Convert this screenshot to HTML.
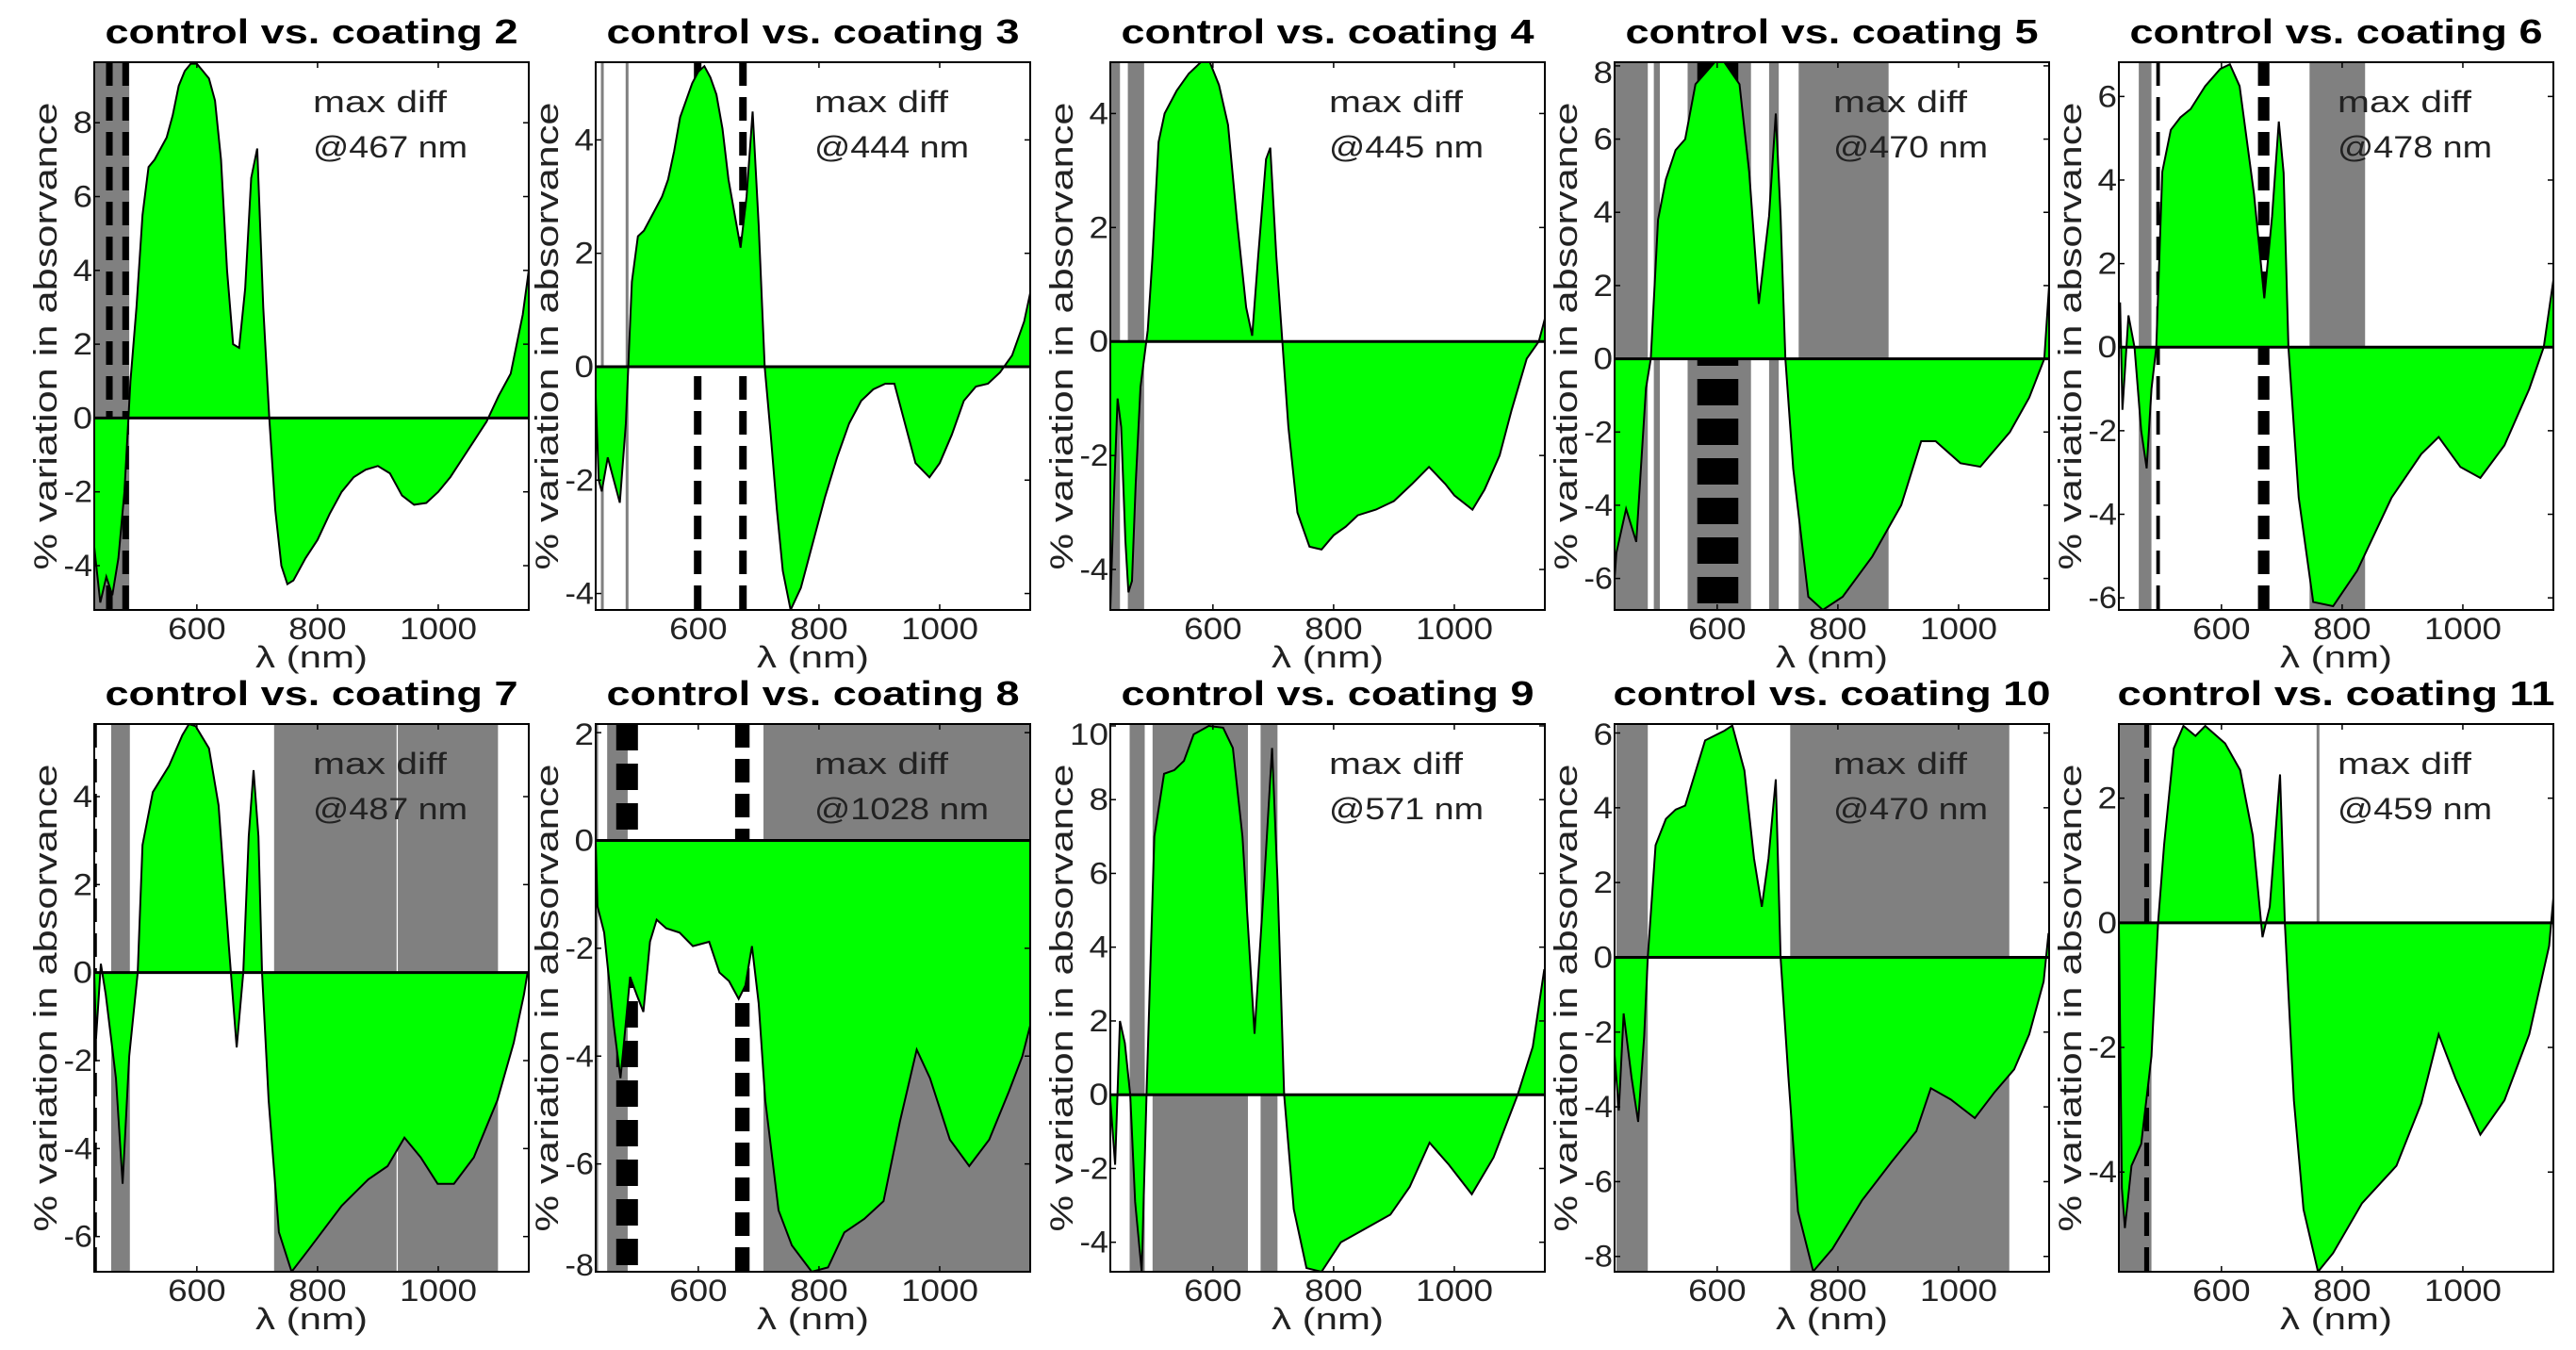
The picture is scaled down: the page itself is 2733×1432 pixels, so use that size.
<!DOCTYPE html>
<html><head><meta charset="utf-8"><title>control vs coatings</title>
<style>html,body{margin:0;padding:0;background:#fff}svg{display:block}</style></head>
<body>
<svg id="fig" xmlns="http://www.w3.org/2000/svg" width="2733" height="1432" viewBox="0 0 2733 1432">
<rect width="2733" height="1432" fill="#fff"/>
</svg>
<script>
// ---- data ----
const titles = ["control vs. coating 2","control vs. coating 3","control vs. coating 4","control vs. coating 5","control vs. coating 6","control vs. coating 7","control vs. coating 8","control vs. coating 9","control vs. coating 10","control vs. coating 11"];
const maxDiffLabels = ["@467 nm","@444 nm","@445 nm","@470 nm","@478 nm","@487 nm","@1028 nm","@571 nm","@470 nm","@459 nm"];
const yRanges = [[-5.2,9.64],[-4.29,5.37],[-4.71,4.9],[-6.86,8.1],[-6.29,6.82],[-6.8,5.65],[-8.0,2.16],[-4.8,10.05],[-8.41,6.24],[-5.6,3.19]];
const xTicks = [600,800,1000];

const wl0 = [430,440,450,460,470,480,490,500,510,520,530,540,550,560,570,580,590,600,610,620,630,640,650,660,670,680,690,700,710,720,730,740,750,760,780,800,820,840,860,880,900,920,940,960,980,1000,1020,1040,1060,1080,1100,1120,1140,1150];
const val0 = [-3.5,-5,-4.3,-4.8,-3.8,-2,1,3,5.5,6.8,7,7.3,7.6,8.2,9,9.4,9.6,9.6,9.4,9.2,8.6,7,4,2,1.9,3.5,6.5,7.3,3,0,-2.5,-4,-4.5,-4.4,-3.8,-3.3,-2.6,-2,-1.6,-1.4,-1.3,-1.5,-2.1,-2.35,-2.3,-2,-1.6,-1.1,-0.6,-0.1,0.6,1.2,2.8,4];
const wl1 = [430,435,440,450,460,470,480,490,500,510,520,530,540,550,560,570,580,590,600,610,620,630,640,650,660,670,680,690,700,710,720,730,740,753,770,790,810,830,850,870,890,910,925,940,960,983,1000,1020,1040,1060,1080,1100,1120,1140,1150];
const val1 = [-0.5,-2,-2.2,-1.6,-2.0,-2.4,-1,1.5,2.3,2.4,2.6,2.8,3.0,3.3,3.8,4.4,4.7,5.0,5.2,5.3,5.1,4.8,4.2,3.3,2.7,2.1,3.0,4.5,2.5,0,-1.2,-2.5,-3.6,-4.29,-3.9,-3.1,-2.3,-1.6,-1.0,-0.6,-0.4,-0.3,-0.3,-0.9,-1.7,-1.95,-1.7,-1.2,-0.6,-0.35,-0.3,-0.1,0.2,0.8,1.3];
const wl2 = [430,435,442,448,455,460,466,472,480,492,500,510,520,540,560,580,595,610,625,640,655,665,675,688,695,705,715,725,740,760,780,800,820,840,870,900,930,958,985,1000,1030,1050,1075,1095,1120,1140,1150];
const val2 = [-4.7,-3.0,-1.0,-1.5,-3.5,-4.4,-4.2,-2.5,-0.8,0.2,1.5,3.5,4.0,4.4,4.7,4.9,4.9,4.5,3.8,2.1,0.6,0.1,1.5,3.2,3.4,1.5,0,-1.5,-3.0,-3.6,-3.65,-3.4,-3.25,-3.05,-2.95,-2.8,-2.5,-2.2,-2.5,-2.7,-2.95,-2.6,-2.0,-1.2,-0.3,0.0,0.4];
const wl3 = [430,433,449,466,482,490,502,515,531,547,564,596,612,637,653,669,686,697,705,713,726,751,775,808,857,905,938,962,1003,1036,1085,1117,1142,1150];
const val3 = [-6,-5.3,-4.1,-5,-0.8,0,3.8,4.9,5.7,6.0,7.5,8.1,8.1,7.5,5.1,1.5,3.9,6.7,3.9,0,-3,-6.5,-6.86,-6.5,-5.4,-4.0,-2.25,-2.25,-2.85,-2.95,-2.0,-1.06,0,2];
const wl4 = [430,432,436,446,456,467,476,484,492,502,516,532,549,573,598,614,630,654,671,684,695,703,711,728,752,785,825,882,931,960,996,1029,1069,1110,1134,1151];
const val4 = [0,1.07,-1.5,0.76,0,-2.0,-2.9,-1.0,0,4.2,5.2,5.5,5.7,6.25,6.66,6.77,6.25,3.66,1.17,3.14,5.4,4.17,0,-3.6,-6.1,-6.2,-5.35,-3.6,-2.56,-2.15,-2.87,-3.13,-2.35,-1.0,0,1.7];
const wl5 = [430,433,441,449,466,477,488,502,510,527,554,576,587,598,620,636,653,666,677,686,694,702,708,719,736,757,785,840,884,916,944,971,999,1026,1059,1098,1125,1142,1148];
const val5 = [0,-1.5,0.2,-0.5,-2.4,-4.8,-1.9,0,2.9,4.1,4.7,5.4,5.65,5.6,5.1,3.8,0.6,-1.7,0,3.1,4.6,3.1,0,-2.9,-5.9,-6.8,-6.3,-5.3,-4.7,-4.4,-3.75,-4.2,-4.8,-4.8,-4.2,-2.9,-1.6,-0.5,0];
const wl6 = [430,433,444,460,471,476,487,498,509,520,531,547,569,591,618,635,651,667,678,689,700,711,733,755,788,815,842,875,907,934,962,984,1017,1049,1082,1115,1137,1150];
const val6 = [0,-1.22,-1.71,-3.43,-4.41,-3.84,-2.53,-2.86,-3.18,-1.88,-1.47,-1.63,-1.71,-1.96,-1.88,-2.45,-2.61,-2.94,-2.69,-1.96,-3.02,-4.82,-6.86,-7.51,-8.0,-7.92,-7.27,-7.02,-6.69,-5.22,-3.88,-4.41,-5.55,-6.04,-5.55,-4.65,-4.0,-3.43];
const wl7 = [430,438,446,454,463,471,482,490,503,519,536,552,568,593,617,633,649,669,685,698,707,718,734,755,780,812,845,894,926,959,991,1029,1065,1105,1130,1149];
const val7 = [-0.14,-1.9,2.0,1.4,0,-2.9,-4.8,0,7.0,8.7,8.8,9.05,9.77,10.0,9.95,9.4,7.0,1.65,5.8,9.4,5.8,0,-3.1,-4.7,-4.8,-4.0,-3.7,-3.25,-2.5,-1.3,-1.9,-2.7,-1.7,0,1.3,3.4];
const wl8 = [430,437,445,458,469,479,485,498,515,531,547,580,612,625,645,661,674,685,697,705,718,734,759,791,840,889,930,954,987,1027,1060,1092,1117,1141,1149];
const val8 = [-2.6,-4.1,-1.5,-3.2,-4.4,-2.1,0,3.0,3.7,3.95,4.06,5.8,6.06,6.2,5.0,2.65,1.35,2.65,4.76,0,-3.2,-6.8,-8.4,-7.8,-6.5,-5.47,-4.65,-3.5,-3.8,-4.3,-3.6,-3.0,-2.06,-0.65,0.65];
const wl9 = [430,435,440,451,467,484,495,505,521,537,557,573,606,631,652,668,680,697,705,720,736,760,785,833,890,931,960,988,1029,1069,1110,1143,1150];
const val9 = [0,-4.26,-4.9,-3.9,-3.55,-2.14,0,1.25,2.8,3.16,3.0,3.16,2.88,2.45,1.4,-0.23,0.26,2.38,0,-2.85,-4.6,-5.6,-5.3,-4.5,-3.9,-2.9,-1.79,-2.5,-3.4,-2.85,-1.79,-0.37,0.4];
const wls = [wl0,wl1,wl2,wl3,wl4,wl5,wl6,wl7,wl8,wl9];
const vals = [val0,val1,val2,val3,val4,val5,val6,val7,val8,val9];
// shaded wavelength bands [from,to]
const bands = [[[430,488]],[],[[430,446],[459,486]],[[430,485],[495,505],[551,656],[686,702],[735,884]],[[463,484],[746,838]],[[458,489],[728,931],[933,1099]],[[431,434],[449,483],[708,1150]],[[462,487],[500,658],[679,707]],[[433,485],[721,1084]],[[430,484]]];
const thinGray = [[],[441,482],[],[],[],[],[],[],[],[760]];
// dashed markers [nm, widthNm]
const dashes = [[[455,11],[482,11]],[[599,12.5],[674,12.5]],[],[[601,68]],[[495,6],[670,19]],[[432,4.5]],[[482,36],[673,24]],[],[],[[476,8]]];

// ---- layout ----
const NS="http://www.w3.org/2000/svg";
const svg=document.getElementById('fig');
const lefts=[100,632,1178,1713,2248];
const W=461, XMIN=430, XMAX=1150;
const rows=[[66,647],[768,1349]];
function el(tag,attrs,parent){const e=document.createElementNS(NS,tag);for(const k in attrs)e.setAttribute(k,attrs[k]);(parent||svg).appendChild(e);return e;}
function txt(s,attrs,parent){const e=el('text',attrs,parent);e.textContent=s;return e;}
function tickLen(s){let n=0;for(const c of s){n+= c==='-'?10:20.5;}return n;}

for(let p=0;p<10;p++){
  const L=lefts[p%5], T=rows[Math.floor(p/5)][0], B=rows[Math.floor(p/5)][1];
  const [ymin,ymax]=yRanges[p];
  const sx=v=>L+(v-XMIN)/(XMAX-XMIN)*W;
  const sy=v=>B-(v-ymin)/(ymax-ymin)*(B-T);
  const g=el('g',{});
  
  
  const clipId='clip'+p;
  const cp=el('clipPath',{id:clipId},g);el('rect',{x:L,y:T,width:W,height:B-T},cp);
  const plot=el('g',{'clip-path':'url(#'+clipId+')'},g);
  bands[p].forEach(b=>{const r=el('rect',{x:sx(b[0]),y:T,width:sx(b[1])-sx(b[0]),height:B-T,fill:'#808080'},plot);
    });
  thinGray[p].forEach(n=>{const r=el('line',{x1:sx(n),x2:sx(n),y1:T,y2:B,stroke:'#808080','stroke-width':3},plot);
    });
  dashes[p].forEach(d=>{const w=Math.max(3,(d[1])/(XMAX-XMIN)*W);const big=w>20;
    const r=el('line',{x1:sx(d[0]),x2:sx(d[0]),y1:T,y2:B,stroke:'#000','stroke-width':w,'stroke-dasharray':big?'28 14':'25 12'},plot);
    });
  // fill
  const xs=wls[p], ys=vals[p], z=sy(0);
  let d='M'+sx(xs[0])+','+z;
  for(let i=0;i<xs.length;i++) d+=' L'+sx(xs[i]).toFixed(1)+','+sy(ys[i]).toFixed(1);
  d+=' L'+sx(xs[xs.length-1])+','+z+' Z';
  const f=el('path',{d:d,fill:'#00ff00',stroke:'none'},plot);
  
  
  let ld='';for(let i=0;i<xs.length;i++) ld+=(i?' L':'M')+sx(xs[i]).toFixed(1)+','+sy(ys[i]).toFixed(1);
  const ln=el('path',{d:ld,fill:'none',stroke:'#000','stroke-width':2},plot);
  
  
  const zl=el('line',{x1:L,x2:L+W,y1:z,y2:z,stroke:'#000','stroke-width':3},plot);
  
  
  // frame
  const fr=el('rect',{x:L,y:T,width:W,height:B-T,fill:'none',stroke:'#000','stroke-width':2},g);
  
  
  // x ticks
  xTicks.forEach(t=>{const X=sx(t);
    el('line',{x1:X,x2:X,y1:B,y2:B-6,stroke:'#000','stroke-width':1.5},g);
    el('line',{x1:X,x2:X,y1:T,y2:T+6,stroke:'#000','stroke-width':1.5},g);
    const s=String(t);
    const tl=txt(s,{x:X,y:B+31,'text-anchor':'middle','font-family':'Liberation Sans, sans-serif','font-size':32,fill:'#222',textLength:tickLen(s),lengthAdjust:'spacingAndGlyphs'},g);
    });
  // y ticks
  for(let v=Math.ceil(ymin/2)*2; v<=ymax; v+=2){const Y=sy(v);
    el('line',{x1:L,x2:L+6,y1:Y,y2:Y,stroke:'#000','stroke-width':1.5},g);
    el('line',{x1:L+W,x2:L+W-6,y1:Y,y2:Y,stroke:'#000','stroke-width':1.5},g);
    const s=String(v);
    const tl=txt(s,{x:L-2,y:Math.min(Math.max(Y+11,T+22),B+4),'text-anchor':'end','font-family':'Liberation Sans, sans-serif','font-size':32,fill:'#222',textLength:tickLen(s),lengthAdjust:'spacingAndGlyphs'},g);
    }
  // labels
  const tt=txt(titles[p],{x:L+W/2,y:T-20,'text-anchor':'middle','font-family':'Liberation Sans, sans-serif','font-weight':'bold','font-size':36,fill:'#000',textLength:titles[p].length>21?464:438,lengthAdjust:'spacingAndGlyphs'},g);
  
  const xl=txt('λ (nm)',{x:L+W/2,y:B+61,'text-anchor':'middle','font-family':'Liberation Sans, DejaVu Sans, sans-serif','font-size':32,fill:'#222',textLength:119,lengthAdjust:'spacingAndGlyphs'},g);
  
  const cy=(T+B)/2, cx=L-40;
  const yl=txt('% variation in absorvance',{x:cx,y:cy,transform:'rotate(-90 '+cx+' '+cy+')','text-anchor':'middle','font-family':'Liberation Sans, sans-serif','font-size':34,fill:'#222',textLength:496,lengthAdjust:'spacingAndGlyphs'},g);
  
  const m1=txt('max diff',{x:L+232,y:T+53,'font-family':'Liberation Sans, sans-serif','font-size':32,fill:'#222',textLength:142,lengthAdjust:'spacingAndGlyphs'},g);
  
  const s2=maxDiffLabels[p];
  const m2=txt(s2,{x:L+232,y:T+101,'font-family':'Liberation Sans, sans-serif','font-size':32,fill:'#222',textLength:s2.length>7?185:164,lengthAdjust:'spacingAndGlyphs'},g);
  
}
</script>
</body></html>
